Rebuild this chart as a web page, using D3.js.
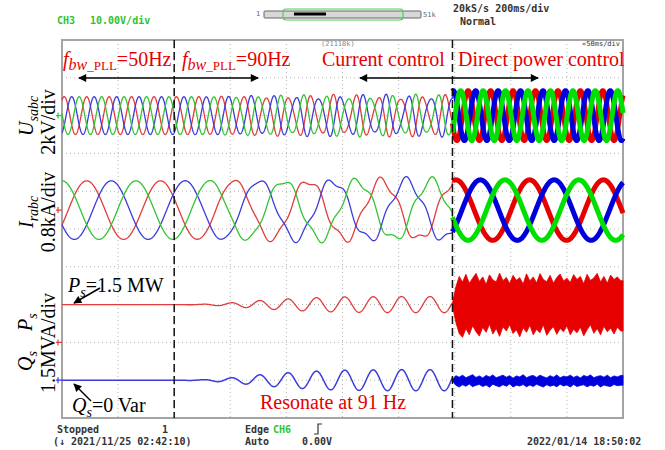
<!DOCTYPE html>
<html>
<head>
<meta charset="utf-8">
<script src="https://cdn.jsdelivr.net/npm/d3@7"></script>
<style>
body { margin: 0; background: #fff; }
svg { display: block; }
.osd { font-family: "DejaVu Sans Mono", monospace; font-size: 10px; font-weight: bold; }
.osd-small { font-family: "DejaVu Sans Mono", monospace; font-size: 7px; }
.ann { font-family: "Liberation Serif", "Times New Roman", serif; font-size: 20px; }
</style>
</head>
<body>
<svg id="chart" width="665" height="450"></svg>
<script>
/* ---------------------------- DATA ---------------------------- */

// time base: 10 div x 50 ms, 10 vertical div
let timeTicks = [0, 50, 100, 150, 200, 250, 300, 350, 400, 450, 500]
let divTicks = [-5, -4, -3, -2, -1, 0, 1, 2, 3, 4, 5]
let switchTimes = [100, 348]          // ms: PLL bandwidth 50->90 Hz, current ctrl -> DPC

// channels: U (kV), I (kA), P (MW), Q (MVar)
let chOffset = [3, 0.5, -3, -4]       // div
let chPerDiv = [2, 0.8, 1.5, 1.5]     // unit / div

let gridFreq = 50        // Hz stator voltage
let rotorFreq = 15.2     // Hz rotor current
let resFreqAbc = 91      // Hz resonance seen in stator abc
let resFreqRotor = 56    // Hz resonance seen in rotor abc
let resFreqPQ = 39.5     // Hz resonance seen in P, Q

let uAmp = [1.0, 1.32]   // kV, before / after DPC
let iAmp = [0.62, 0.64]  // kA
let uPeakTime = 2        // ms, phase a peak
let iPeakTime = 22
let pqPeakTime = 328

let psSet = 1.5          // MW
let qsSet = 0            // MVar

// resonance growth after PLL bandwidth change
let resEnvTime = [100, 125, 150, 175, 200, 225, 250, 300, 348]
let resEnv = [0, 0.04, 0.22, 0.5, 0.7, 0.85, 0.95, 1, 1]
let resAmp = [0.14, 0.09, 0.32, 0.42]   // U, I, P, Q

// DPC noise bands (ms, MW / MVar)
let bandTime = [348, 351, 354, 357, 360, 363, 366, 369, 372, 375, 378, 381, 384, 387, 390, 393, 396,
    399, 402, 405, 408, 411, 414, 417, 420, 423, 426, 429, 432, 435, 438, 441, 444, 447, 450, 453,
    456, 459, 462, 465, 468, 471, 474, 477, 480, 483, 486, 489, 492, 495, 498]
let pHi = [1.55, 2.2, 2.62, 2.4, 2.7, 2.35, 2.55, 2.74, 2.42, 2.6, 2.3, 2.68, 2.48, 2.4, 2.75, 2.45,
    2.58, 2.34, 2.66, 2.47, 2.57, 2.32, 2.72, 2.44, 2.6, 2.36, 2.73, 2.5, 2.41, 2.66, 2.35, 2.58,
    2.71, 2.44, 2.55, 2.38, 2.69, 2.5, 2.62, 2.33, 2.7, 2.46, 2.56, 2.74, 2.4, 2.62, 2.35, 2.67,
    2.5, 2.6, 2.45]
let pLo = [1.45, 0.8, 0.35, 0.2, 0.55, 0.3, 0.66, 0.42, 0.25, 0.6, 0.4, 0.72, 0.33, 0.55, 0.24,
    0.62, 0.45, 0.7, 0.35, 0.5, 0.22, 0.58, 0.4, 0.68, 0.3, 0.52, 0.38, 0.7, 0.28, 0.48, 0.62,
    0.32, 0.55, 0.42, 0.66, 0.3, 0.52, 0.38, 0.6, 0.26, 0.5, 0.7, 0.36, 0.55, 0.3, 0.64, 0.42,
    0.57, 0.33, 0.6, 0.45]
let qHi = [0.02, 0.18, 0.12, 0.2, 0.1, 0.16, 0.22, 0.11, 0.17, 0.09, 0.19, 0.13, 0.21, 0.1, 0.15,
    0.2, 0.12, 0.18, 0.08, 0.17, 0.13, 0.22, 0.1, 0.16, 0.19, 0.11, 0.2, 0.14, 0.09, 0.18, 0.12,
    0.21, 0.1, 0.16, 0.13, 0.2, 0.11, 0.17, 0.09, 0.19, 0.14, 0.21, 0.1, 0.15, 0.18, 0.12, 0.2,
    0.1, 0.17, 0.13, 0.19]
let qLo = [-0.02, -0.2, -0.27, -0.18, -0.24, -0.15, -0.26, -0.2, -0.17, -0.25, -0.19, -0.28, -0.16,
    -0.22, -0.26, -0.18, -0.24, -0.15, -0.27, -0.2, -0.23, -0.17, -0.26, -0.19, -0.25, -0.16,
    -0.22, -0.27, -0.18, -0.24, -0.2, -0.26, -0.16, -0.23, -0.19, -0.27, -0.17, -0.25, -0.21,
    -0.18, -0.26, -0.2, -0.24, -0.16, -0.27, -0.19, -0.23, -0.25, -0.17, -0.22, -0.2]

let phaseThin = ['#e23c3c', '#3c3cdc', '#32c432']   // a (red), b (blue), c (green)
let phaseThick = ['#e60000', '#0000dc', '#00e000']

/* --------------------------- SCALES --------------------------- */

let svg = d3.select('#chart')
let x = d3.scaleLinear().domain([0, 500]).range([62, 623])
let y = d3.scaleLinear().domain([-5, 5]).range([418, 40])
let envScale = d3.scaleLinear().domain(resEnvTime).range(resEnv).clamp(true)
let tau = 2 * Math.PI

function env(t) { return t < switchTimes[1] ? envScale(t) : 0 }
function toY(ch, v) { return y(v / chPerDiv[ch] + chOffset[ch]) }

/* ---------------------------- GRID ---------------------------- */

let grid = svg.append('g')
grid.selectAll('line.v').data(timeTicks.slice(1, -1)).enter()
    .append('line')
    .attr('x1', d => x(d)).attr('x2', d => x(d))
    .attr('y1', y(5)).attr('y2', y(-5))
    .attr('stroke', '#b4b4b4').attr('stroke-dasharray', '1,3')
grid.selectAll('line.h').data(divTicks.slice(1, -1)).enter()
    .append('line')
    .attr('y1', d => y(d)).attr('y2', d => y(d))
    .attr('x1', x(0)).attr('x2', x(500))
    .attr('stroke', '#b4b4b4').attr('stroke-dasharray', '1,3')

svg.append('rect')
    .attr('x', x(0)).attr('y', y(5))
    .attr('width', x(500) - x(0)).attr('height', y(-5) - y(5))
    .attr('fill', 'none').attr('stroke', '#a4a4a4').attr('stroke-width', 2)

/* -------------------------- TRACES -------------------------- */

let samples = d3.range(0, 500.001, 0.2)
let line = d3.line().x(d => x(d.t)).y(d => d.y)

function uVal(k, t) {
    let a = t < switchTimes[1] ? uAmp[0] : uAmp[1]
    return a * Math.cos(tau * gridFreq * (t - uPeakTime) / 1000 - k * tau / 3)
        + resAmp[0] * env(t) * Math.cos(tau * resFreqAbc * t / 1000 - k * tau / 3)
}
function iVal(k, t) {
    let a = t < switchTimes[1] ? iAmp[0] : iAmp[1]
    return a * Math.cos(tau * rotorFreq * (t - iPeakTime) / 1000 - k * tau / 3)
        + resAmp[1] * env(t) * Math.cos(tau * resFreqRotor * t / 1000 - k * tau / 3 + 1)
}

let traces = svg.append('g').attr('fill', 'none').attr('stroke-linejoin', 'round')

function drawPhases(ch, fn, thick) {
    let before = samples.filter(t => t <= switchTimes[1])
    let after = samples.filter(t => t >= switchTimes[1])
    for (let k of [0, 1, 2]) {
        traces.append('path')
            .attr('d', line(before.map(t => ({ t: t, y: toY(ch, fn(k, t)) }))))
            .attr('stroke', phaseThin[k]).attr('stroke-width', 1.3)
    }
    for (let k of [0, 1, 2]) {
        traces.append('path')
            .attr('d', line(after.map(t => ({ t: t, y: toY(ch, fn(k, t)) }))))
            .attr('stroke', phaseThick[k]).attr('stroke-width', thick)
    }
}
drawPhases(0, uVal, 5)
drawPhases(1, iVal, 5)

// P, Q before DPC
let pqBefore = samples.filter(t => t <= switchTimes[1])
traces.append('path')
    .attr('d', line(pqBefore.map(t => ({ t: t,
        y: toY(2, psSet + resAmp[2] * env(t) * Math.cos(tau * resFreqPQ * (t - pqPeakTime) / 1000)) }))))
    .attr('stroke', phaseThin[0]).attr('stroke-width', 1.3)
traces.append('path')
    .attr('d', line(pqBefore.map(t => ({ t: t,
        y: toY(3, qsSet + resAmp[3] * env(t) * Math.cos(tau * resFreqPQ * (t - pqPeakTime) / 1000)) }))))
    .attr('stroke', phaseThin[1]).attr('stroke-width', 1.5)

// P, Q under DPC: noise bands
let band = bandTime.map((t, i) => ({ t: t, pHi: pHi[i], pLo: pLo[i], qHi: qHi[i], qLo: qLo[i] }))
band.push({ t: 500, pHi: pHi[pHi.length - 1], pLo: pLo[pLo.length - 1], qHi: qHi[qHi.length - 1], qLo: qLo[qLo.length - 1] })
svg.append('path')
    .attr('d', d3.area().x(d => x(d.t)).y0(d => toY(2, d.pLo)).y1(d => toY(2, d.pHi))(band))
    .attr('fill', '#e60000').attr('stroke', '#e60000').attr('stroke-width', 0.8)
svg.append('path')
    .attr('d', d3.area().x(d => x(d.t)).y0(d => toY(3, d.qLo)).y1(d => toY(3, d.qHi))(band))
    .attr('fill', '#0000dc').attr('stroke', '#0000dc').attr('stroke-width', 0.8)

/* ----------------------- CHANNEL MARKERS ----------------------- */

let markers = [
    { ch: 0, c: '#32c432' }, { ch: 1, c: '#e23c3c' }, { ch: 2, c: '#e23c3c' }, { ch: 3, c: '#3c3cdc' }
]
for (let m of markers) {
    let yy = toY(m.ch, 0)
    svg.append('path')
        .attr('d', `M56,${yy} H62 M58,${yy - 3} V${yy + 3}`)
        .attr('stroke', m.c).attr('stroke-width', 1.2)
}

/* ----------------------- SWITCH LINES ----------------------- */

svg.selectAll('line.sw').data(switchTimes).enter()
    .append('line')
    .attr('x1', d => x(d)).attr('x2', d => x(d))
    .attr('y1', y(5)).attr('y2', y(-5))
    .attr('stroke', '#111').attr('stroke-width', 1.5).attr('stroke-dasharray', '8,4')

/* ------------------------ ANNOTATIONS ------------------------ */

let defs = svg.append('defs')
defs.append('marker').attr('id', 'ah')
    .attr('viewBox', '0 0 10 10').attr('refX', 9).attr('refY', 5)
    .attr('markerWidth', 10).attr('markerHeight', 8)
    .attr('markerUnits', 'userSpaceOnUse').attr('orient', 'auto-start-reverse')
    .append('path').attr('d', 'M0,0 L10,5 L0,10 z').attr('fill', '#000')

function arrow(x1, y1, x2, y2, both) {
    let l = svg.append('line')
        .attr('x1', x1).attr('y1', y1).attr('x2', x2).attr('y2', y2)
        .attr('stroke', '#000').attr('stroke-width', 1.5)
        .attr('marker-end', 'url(#ah)')
    if (both) l.attr('marker-start', 'url(#ah)')
}
arrow(79, 78, 258, 78, true)
arrow(360, 78, 538, 78, true)
arrow(100, 288, 74, 303, false)
arrow(91, 401, 74, 384, false)

function fLabel(x0, txt) {
    let t = svg.append('text').attr('class', 'ann').attr('x', x0).attr('y', 66).attr('fill', '#e60000')
    t.append('tspan').attr('font-style', 'italic').text('f')
    t.append('tspan').attr('font-style', 'italic').attr('font-size', 16).attr('dy', 4).text('bw')
    t.append('tspan').attr('font-size', 13).text('_PLL')
    t.append('tspan').attr('dy', -4).text(txt)
}
fLabel(63, '=50Hz')
fLabel(182, '=90Hz')

svg.append('text').attr('class', 'ann').attr('x', 322).attr('y', 66).attr('fill', '#e60000').text('Current control')
svg.append('text').attr('class', 'ann').attr('x', 458).attr('y', 66).attr('fill', '#e60000').text('Direct power control')
svg.append('text').attr('class', 'ann').attr('x', 260).attr('y', 409).attr('fill', '#e60000').text('Resonate at 91 Hz')

function subLabel(x0, y0, main, sub, rest) {
    let t = svg.append('text').attr('class', 'ann').attr('x', x0).attr('y', y0).attr('fill', '#000')
    t.append('tspan').attr('font-style', 'italic').text(main)
    t.append('tspan').attr('font-style', 'italic').attr('font-size', 14).attr('dy', 5).text(sub)
    t.append('tspan').attr('dy', -5).text(rest)
}
subLabel(68, 292, 'P', 's', '=1.5 MW')
subLabel(72, 412, 'Q', 's', '=0 Var')

// rotated axis labels
function vText(bx, by, anchor) {
    return svg.append('text').attr('class', 'ann').attr('fill', '#000')
        .attr('text-anchor', anchor)
        .attr('transform', `translate(${bx},${by}) rotate(-90)`)
}
function vSub(bx, by, main, sub) {
    let t = vText(bx, by, 'start')
    t.append('tspan').attr('font-style', 'italic').text(main)
    t.append('tspan').attr('font-style', 'italic').attr('font-size', 14).attr('dy', 5).text(sub)
}
vSub(33, 136, 'U', 'sabc')
vText(55, 122, 'middle').text('2kV/div')
vSub(33, 228, 'I', 'rabc')
vText(55, 212, 'middle').text('0.8kA/div')
vSub(32, 331, 'P', 's')
vSub(32, 371, 'Q', 's')
vText(55, 343, 'middle').text('1.5MVA/div')

/* ------------------------ SCOPE TEXT ------------------------ */

function osd(x0, y0, txt, color, cls) {
    return svg.append('text').attr('class', cls || 'osd').attr('x', x0).attr('y', y0)
        .style('fill', color || '#333').text(txt)
}
osd(57, 24, 'CH3', '#2ec42e')
osd(90, 24, '10.00V/div', '#2ec42e')
osd(453, 12, '20kS/s 200ms/div')
osd(460, 25, 'Normal')

svg.append('rect').attr('x', 264).attr('y', 11).attr('width', 157).attr('height', 7).attr('rx', 1)
    .attr('fill', '#d8d8d8').attr('stroke', '#666')
svg.append('rect').attr('x', 283).attr('y', 9).attr('width', 120).attr('height', 11).attr('rx', 3)
    .attr('fill', 'none').attr('stroke', '#4cd44c').attr('stroke-width', 1.2)
svg.append('rect').attr('x', 294).attr('y', 12.5).attr('width', 32).attr('height', 3).attr('fill', '#000')
osd(256, 16, '1', '#666', 'osd-small')
osd(423, 17, '51k', '#666', 'osd-small')
osd(321, 46, '(21118k)', '#888', 'osd-small')
osd(620, 46, '«50ms/div', '#333', 'osd-small').attr('text-anchor', 'end')

osd(57, 433, 'Stopped')
osd(162, 433, '1')
osd(245, 433, 'Edge')
osd(273, 433, 'CH6', '#2ec42e')
svg.append('path').attr('d', 'M314,434 H318 V424 H322').attr('fill', 'none').attr('stroke', '#333').attr('stroke-width', 1.2)
osd(53, 445, '(\u2193 2021/11/25 02:42:10)')
osd(245, 445, 'Auto')
osd(302, 445, '0.00V')
osd(527, 445, '2022/01/14 18:50:02')
</script>
</body>
</html>
